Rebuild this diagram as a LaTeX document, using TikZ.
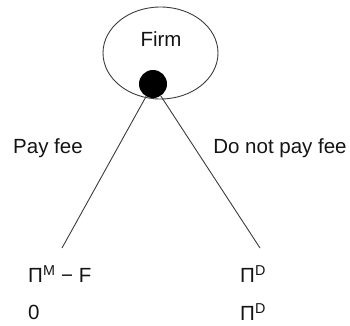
\documentclass[tikz,border=0pt]{standalone}
\usepackage{fontspec}
\setmainfont{Liberation Sans}
\usetikzlibrary{shapes.geometric}

\begin{document}
\begin{tikzpicture}[x=1pt, y=1pt, font=\fontsize{20.5}{24}\selectfont]

\definecolor{treeline}{RGB}{60,60,60}
\definecolor{blocktext}{RGB}{20,20,20}

\tikzset{
  wire/.style={line width=0.9pt, draw=treeline},
  lab/.style={text=blocktext, inner sep=0pt},
  pay/.style={lab, anchor=west},
}

\useasboundingbox (0,0) rectangle (350,325);

% player and decision node
\node[wire, ellipse, minimum width=115pt, minimum height=92pt, inner sep=0pt] (firm) at (160.5,272) {};
\node[lab] (firmlab) at (161,286) {Firm};
\node[circle, fill=black, minimum size=28pt, inner sep=0pt] (dec) at (153,241) {};

% branches
\coordinate (leafL) at (62,77);
\coordinate (leafR) at (260,77);
\draw[wire] (dec) -- (leafL);
\draw[wire] (dec) -- (leafR);

\node[lab] (payfee) at (48,177) {Pay fee};
\node[lab] (nofee) at (280,177) {Do not pay fee};

% payoffs
\node[pay] (uL1) at (28,51) {Π\textsuperscript{M} − F};
\node[pay] (uL2) at (28,13) {0};
\node[pay] (uR1) at (240,51) {Π\textsuperscript{D}};
\node[pay] (uR2) at (240,13) {Π\textsuperscript{D}};

\end{tikzpicture}
\end{document}
